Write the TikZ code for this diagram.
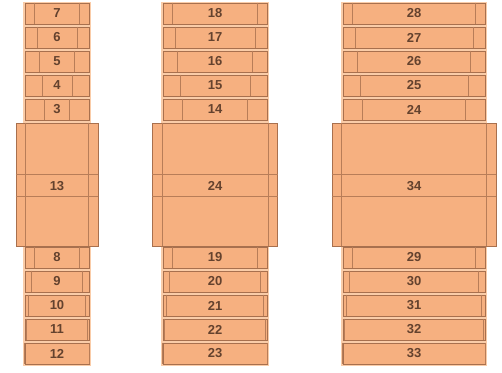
\documentclass[tikz,border=0pt]{standalone}
\usepackage{fontspec}
\setmainfont{Liberation Sans}
\usetikzlibrary{positioning}
\definecolor{brick}{RGB}{246,176,128}
\definecolor{brickpale}{RGB}{250,204,168}
\definecolor{brickline}{RGB}{168,112,78}
\definecolor{numbrown}{RGB}{100,66,46}
\tikzset{
  tile/.style={draw=brickline, fill=brick, line width=0.7pt, inner sep=0pt,
               minimum height=21pt, text=numbrown,
               font=\fontsize{13}{13}\selectfont\bfseries},
  tileline/.style={draw=brickline!80!brick, line width=0.6pt},
  block/.style={draw=brickline, fill=brick, line width=0.7pt, inner sep=0pt,
                minimum height=123pt}
}

\begin{document}
\begin{tikzpicture}[x=1pt,y=-1pt]
  \useasboundingbox (0,0) rectangle (502,372);

  \foreach \c/\cx/\tw/\bw/\tn/\bn/\mid in {a/57/64/82/7/8/13, b/215/104/125/18/19/24, c/414/142/164/28/29/34}{
    % pale ledges between the tiles
    \fill[brickpale] (\cx-\tw/2-2,2) rectangle (\cx+\tw/2+2,366);

    % upper tiles, inner face narrows downwards
    \foreach \i in {0,...,4}{
      \pgfmathtruncatemacro{\num}{\tn-\i}
      \pgfmathsetmacro{\ins}{10+2.5*\i}
      \node[tile, minimum width=\tw] (\c up\i) at (\cx,13.5+24*\i) {\num};
      \draw[tileline] ([xshift=\ins pt]\c up\i.north west) -- ([xshift=\ins pt]\c up\i.south west);
      \draw[tileline] ([xshift=-\ins pt]\c up\i.north east) -- ([xshift=-\ins pt]\c up\i.south east);
    }

    % middle block
    \node[block, minimum width=\bw] (\c blk) at (\cx,184.5) {};
    \draw[tileline] ([xshift=10pt]\c blk.north west) -- ([xshift=10pt]\c blk.south west);
    \draw[tileline] ([xshift=-10pt]\c blk.north east) -- ([xshift=-10pt]\c blk.south east);
    \draw[tileline] ([yshift=-52pt]\c blk.north west) -- ([yshift=-52pt]\c blk.north east);
    \draw[tileline] ([yshift=-74pt]\c blk.north west) -- ([yshift=-74pt]\c blk.north east);
    \node[text=numbrown, font=\fontsize{13}{13}\selectfont\bfseries] (\c mid) at (\cx,186) {\mid};

    % lower tiles, inner face widens downwards
    \foreach \i/\ins in {0/10,1/7,2/4,3/2,4/0}{
      \pgfmathtruncatemacro{\num}{\bn+\i}
      \node[tile, minimum width=\tw] (\c lo\i) at (\cx,257.5+24*\i) {\num};
      \draw[tileline] ([xshift=\ins pt]\c lo\i.north west) -- ([xshift=\ins pt]\c lo\i.south west);
      \draw[tileline] ([xshift=-\ins pt]\c lo\i.north east) -- ([xshift=-\ins pt]\c lo\i.south east);
    }
  }
\end{tikzpicture}
\end{document}
